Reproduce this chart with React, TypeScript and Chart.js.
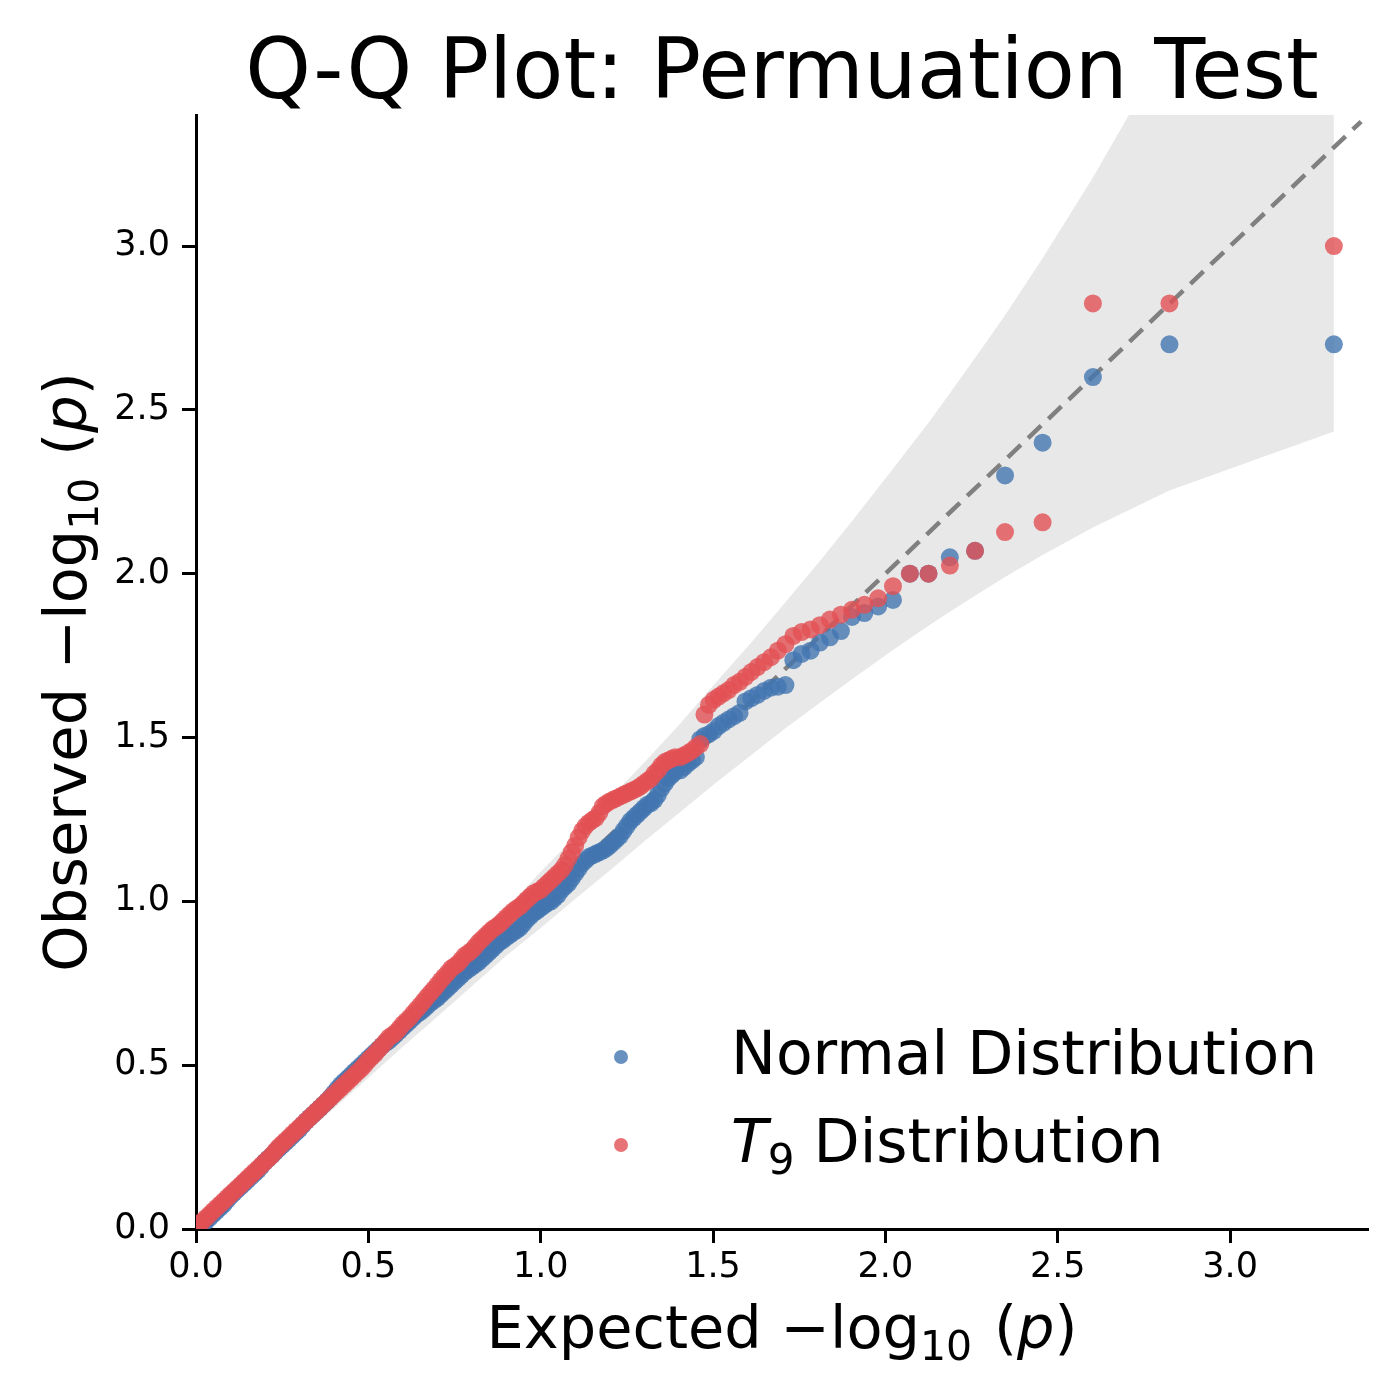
import React, { useEffect, useRef } from "react";
import { Chart, registerables } from "chart.js";

Chart.register(...registerables);

// Expected -log10(p) for the plotted order statistics (largest first)
const expected = [
  3.301, 2.824, 2.602, 2.456, 2.347, 2.26, 2.187, 2.125, 2.071, 2.022,
  1.979, 1.939, 1.903, 1.871, 1.839, 1.81, 1.783, 1.757, 1.733, 1.71,
  1.688, 1.668, 1.648, 1.629, 1.611, 1.594, 1.577, 1.561, 1.545, 1.53,
  1.516, 1.502, 1.488, 1.475, 1.463, 1.45, 1.439, 1.427, 1.416, 1.405,
  1.39, 1.38, 1.37, 1.36, 1.35, 1.34, 1.33, 1.32, 1.31, 1.3,
  1.29, 1.28, 1.27, 1.26, 1.25, 1.24, 1.23, 1.22, 1.21, 1.2,
  1.19, 1.18, 1.17, 1.16, 1.15, 1.14, 1.13, 1.12, 1.11, 1.1,
  1.09, 1.08, 1.07, 1.06, 1.05, 1.04, 1.03, 1.02, 1.01, 1.0,
  0.99, 0.98, 0.97, 0.96, 0.95, 0.94, 0.93, 0.92, 0.91, 0.9,
  0.89, 0.88, 0.87, 0.86, 0.85, 0.84, 0.83, 0.82, 0.81, 0.8,
  0.79, 0.78, 0.77, 0.76, 0.75, 0.74, 0.73, 0.72, 0.71, 0.7,
  0.69, 0.68, 0.67, 0.66, 0.65, 0.64, 0.63, 0.62, 0.61, 0.6,
  0.59, 0.58, 0.57, 0.56, 0.55, 0.54, 0.53, 0.52, 0.51, 0.5,
  0.49, 0.48, 0.47, 0.46, 0.45, 0.44, 0.43, 0.42, 0.41, 0.4,
  0.39, 0.38, 0.37, 0.36, 0.35, 0.34, 0.33, 0.32, 0.31, 0.3,
  0.29, 0.28, 0.27, 0.26, 0.25, 0.24, 0.23, 0.22, 0.21, 0.2,
  0.19, 0.18, 0.17, 0.16, 0.15, 0.14, 0.13, 0.12, 0.11, 0.1,
  0.09, 0.08, 0.07, 0.06, 0.05, 0.04, 0.03, 0.02, 0.01,
  0.005,
];

// Observed -log10(p), normal-distributed data
const normalObserved = [
  2.7, 2.7, 2.6, 2.4, 2.3, 2.07, 2.05, 2.0, 2.0, 1.92,
  1.9, 1.88, 1.868, 1.825, 1.806, 1.79, 1.765, 1.755, 1.736, 1.66,
  1.655, 1.652, 1.642, 1.63, 1.62, 1.61, 1.575, 1.565, 1.555, 1.545,
  1.535, 1.52, 1.51, 1.505, 1.495, 1.44, 1.43, 1.42, 1.41, 1.4,
  1.395, 1.385, 1.375, 1.36, 1.345, 1.325, 1.31, 1.3, 1.295, 1.285,
  1.275, 1.265, 1.255, 1.245, 1.23, 1.215, 1.2, 1.19, 1.18, 1.17,
  1.162, 1.155, 1.15, 1.145, 1.14, 1.135, 1.125, 1.115, 1.1, 1.085,
  1.07, 1.055, 1.045, 1.035, 1.02, 1.01, 1.0, 0.995, 0.988, 0.98,
  0.972, 0.965, 0.955, 0.945, 0.932, 0.92, 0.912, 0.905, 0.898, 0.89,
  0.882, 0.875, 0.865, 0.855, 0.845, 0.835, 0.825, 0.815, 0.808, 0.8,
  0.792, 0.785, 0.775, 0.765, 0.755, 0.745, 0.735, 0.725, 0.715, 0.705,
  0.698, 0.69, 0.68, 0.67, 0.662, 0.655, 0.645, 0.635, 0.625, 0.615,
  0.605, 0.595, 0.585, 0.575, 0.568, 0.56, 0.55, 0.54, 0.53, 0.52,
  0.51, 0.5, 0.49, 0.48, 0.47, 0.46, 0.45, 0.44, 0.428, 0.415,
  0.402, 0.39, 0.38, 0.37, 0.36, 0.35, 0.34, 0.33, 0.318, 0.305,
  0.295, 0.285, 0.275, 0.265, 0.255, 0.245, 0.235, 0.225, 0.215, 0.205,
  0.192, 0.18, 0.17, 0.16, 0.15, 0.14, 0.13, 0.12, 0.11, 0.1,
  0.088, 0.075, 0.065, 0.055, 0.045, 0.035, 0.025, 0.015, 0.008,
  0.0,
];

// Observed -log10(p), T9-distributed data
const t9Observed = [
  3.0, 2.825, 2.825, 2.157, 2.127, 2.07, 2.025, 2.0, 2.0, 1.962,
  1.925, 1.905, 1.89, 1.875, 1.86, 1.843, 1.83, 1.822, 1.81, 1.785,
  1.765, 1.745, 1.73, 1.715, 1.7, 1.685, 1.67, 1.66, 1.645, 1.635,
  1.625, 1.615, 1.6, 1.57, 1.48, 1.47, 1.46, 1.452, 1.446, 1.44,
  1.44, 1.435, 1.43, 1.425, 1.415, 1.4, 1.39, 1.375, 1.368, 1.36,
  1.352, 1.345, 1.34, 1.335, 1.33, 1.325, 1.32, 1.315, 1.31, 1.305,
  1.298, 1.29, 1.27, 1.255, 1.248, 1.24, 1.23, 1.215, 1.195, 1.17,
  1.15, 1.13, 1.11, 1.095, 1.085, 1.075, 1.065, 1.055, 1.045, 1.035,
  1.03, 1.025, 1.015, 1.005, 0.995, 0.985, 0.978, 0.97, 0.96, 0.95,
  0.94, 0.93, 0.922, 0.915, 0.905, 0.895, 0.885, 0.875, 0.862, 0.85,
  0.842, 0.835, 0.822, 0.81, 0.802, 0.795, 0.782, 0.77, 0.758, 0.745,
  0.732, 0.72, 0.708, 0.695, 0.682, 0.67, 0.658, 0.645, 0.635, 0.625,
  0.612, 0.6, 0.592, 0.585, 0.572, 0.56, 0.548, 0.535, 0.525, 0.515,
  0.502, 0.49, 0.48, 0.47, 0.46, 0.45, 0.44, 0.43, 0.42, 0.41,
  0.4, 0.39, 0.38, 0.37, 0.36, 0.35, 0.34, 0.33, 0.32, 0.31,
  0.3, 0.29, 0.28, 0.27, 0.26, 0.25, 0.238, 0.225, 0.215, 0.205,
  0.195, 0.185, 0.175, 0.165, 0.155, 0.145, 0.135, 0.125, 0.115, 0.105,
  0.095, 0.085, 0.075, 0.065, 0.055, 0.045, 0.035, 0.025, 0.015,
  0.005,
];

// 95% confidence band around the null line
const bandExpected = [
  0.0, 0.1, 0.2, 0.3, 0.4, 0.5, 0.6, 0.7, 0.8, 0.9, 1.0, 1.1, 1.204, 1.306,
  1.405, 1.502, 1.611, 1.71, 1.81, 1.903, 2.022, 2.125, 2.187, 2.26, 2.347,
  2.456, 2.602, 2.824, 3.301,
];
const bandUpper = [
  0.0, 0.114, 0.221, 0.328, 0.435, 0.542, 0.65, 0.756, 0.865, 0.977, 1.09,
  1.198, 1.318, 1.43, 1.543, 1.66, 1.79, 1.913, 2.039, 2.16, 2.32, 2.461,
  2.551, 2.658, 2.789, 2.963, 3.209, 3.616, 4.59,
];
const bandLower = [
  0.0, 0.087, 0.18, 0.274, 0.368, 0.462, 0.556, 0.648, 0.741, 0.834, 0.919,
  1.007, 1.097, 1.188, 1.273, 1.357, 1.447, 1.528, 1.606, 1.678, 1.767,
  1.841, 1.884, 1.933, 1.99, 2.057, 2.141, 2.254, 2.434,
];

// Reference line y = x
const diagonalEnds = [0, 3.38];

const AXIS_MIN = 0;
const AXIS_MAX = 3.4;

const BLUE = "rgba(66, 117, 176, 0.8)";
const RED = "rgba(226, 80, 84, 0.8)";
const FONT = "'DejaVu Sans', sans-serif";

type Seg = { t: string; size: number; italic?: boolean; dy?: number; gap?: number };

const fontOf = (s: Seg) => `${s.italic ? "italic " : ""}${s.size}px ${FONT}`;

function measureRich(ctx: CanvasRenderingContext2D, segs: Seg[]) {
  return segs.map((s) => {
    ctx.font = fontOf(s);
    return ctx.measureText(s.t).width + (s.gap || 0);
  });
}

function drawRich(
  ctx: CanvasRenderingContext2D,
  segs: Seg[],
  x: number,
  y: number,
  align: "left" | "center"
) {
  const widths = measureRich(ctx, segs);
  const total = widths.reduce((a, b) => a + b, 0);
  let cx = align === "center" ? x - total / 2 : x;
  ctx.textAlign = "left";
  ctx.textBaseline = "alphabetic";
  segs.forEach((s, i) => {
    ctx.font = fontOf(s);
    ctx.fillText(s.t, cx, y + (s.dy || 0));
    cx += widths[i];
  });
}

const labelSegs = (word: string, size: number): Seg[] => [
  { t: `${word} \u2212log`, size },
  { t: "10", size: Math.round(size * 0.7), dy: Math.round(size * 0.2), gap: size * 0.37 },
  { t: "(", size },
  { t: "p", size, italic: true },
  { t: ")", size },
];

const decorations = {
  id: "qqDecorations",
  afterDraw(chart: Chart) {
    const ctx = chart.ctx;
    const area = chart.chartArea;
    const cx = (area.left + area.right) / 2;
    const cy = (area.top + area.bottom) / 2;
    ctx.save();
    ctx.fillStyle = "#000";

    // Title
    drawRich(ctx, [{ t: "Q-Q Plot: Permuation Test", size: 83.5 }], cx, 98, "center");

    // X axis title
    drawRich(ctx, labelSegs("Expected", 59), cx, 1348, "center");

    // Y axis title (rotated)
    ctx.save();
    ctx.translate(86, cy);
    ctx.rotate(-Math.PI / 2);
    drawRich(ctx, labelSegs("Observed", 59), 0, 0, "center");
    ctx.restore();

    // Legend
    const rows: { color: string; y: number; segs: Seg[] }[] = [
      { color: BLUE, y: 1074, segs: [{ t: "Normal Distribution", size: 60 }] },
      {
        color: RED,
        y: 1162,
        segs: [
          { t: "T", size: 60, italic: true },
          { t: "9", size: 42, dy: 12, gap: 0 },
          { t: " Distribution", size: 60 },
        ],
      },
    ];
    rows.forEach((r) => {
      ctx.beginPath();
      ctx.fillStyle = r.color;
      ctx.arc(621, r.y - 17, 7, 0, Math.PI * 2);
      ctx.fill();
      ctx.fillStyle = "#000";
      drawRich(ctx, r.segs, 731, r.y, "left");
    });
    ctx.restore();
  },
};

export default function App() {
  const canvasRef = useRef<HTMLCanvasElement | null>(null);

  useEffect(() => {
    const canvas = canvasRef.current;
    if (!canvas) return;

    const normalPts = expected.map((x, i) => ({ x, y: normalObserved[i] }));
    const t9Pts = expected.map((x, i) => ({ x, y: t9Observed[i] }));
    const upperPts = bandExpected.map((x, i) => ({ x, y: bandUpper[i] }));
    const lowerPts = bandExpected.map((x, i) => ({ x, y: bandLower[i] }));
    const diagPts = diagonalEnds.map((v) => ({ x: v, y: v }));

    const tickFont = { family: FONT, size: 35 };

    const chart = new Chart(canvas, {
      type: "scatter",
      data: {
        datasets: [
          {
            label: "T9 Distribution",
            data: t9Pts,
            backgroundColor: RED,
            borderWidth: 0,
            pointRadius: 9,
            order: 0,
          },
          {
            label: "Normal Distribution",
            data: normalPts,
            backgroundColor: BLUE,
            borderWidth: 0,
            pointRadius: 9,
            order: 1,
          },
          {
            type: "line",
            label: "y = x",
            data: diagPts,
            borderColor: "rgb(128,128,128)",
            borderWidth: 4.5,
            borderDash: [18, 10],
            pointRadius: 0,
            fill: false,
            order: 2,
          } as any,
          {
            type: "line",
            label: "band upper",
            data: upperPts,
            borderWidth: 0,
            borderColor: "rgba(0,0,0,0)",
            backgroundColor: "#e8e8e8",
            pointRadius: 0,
            fill: "+1",
            tension: 0,
            order: 3,
          } as any,
          {
            type: "line",
            label: "band lower",
            data: lowerPts,
            borderWidth: 0,
            borderColor: "rgba(0,0,0,0)",
            pointRadius: 0,
            fill: false,
            tension: 0,
            order: 4,
          } as any,
        ],
      },
      options: {
        animation: false,
        responsive: false,
        events: [],
        layout: { padding: { left: 0, right: 32, top: 115, bottom: 0 } },
        plugins: {
          legend: { display: false },
          tooltip: { enabled: false },
          title: { display: false },
        },
        scales: {
          x: {
            type: "linear",
            min: AXIS_MIN,
            max: AXIS_MAX,
            afterFit: (s: any) => {
              s.height = 171;
            },
            border: { display: true, color: "#000", width: 3 },
            grid: {
              drawOnChartArea: false,
              drawTicks: true,
              tickLength: 14,
              tickWidth: 3,
              tickColor: "#000",
            },
            ticks: {
              stepSize: 0.5,
              includeBounds: false,
              autoSkip: false,
              maxRotation: 0,
              color: "#000",
              font: tickFont,
              padding: 4,
              callback: (v: any) => Number(v).toFixed(1),
            },
          },
          y: {
            type: "linear",
            min: AXIS_MIN,
            max: AXIS_MAX,
            afterFit: (s: any) => {
              s.width = 196;
            },
            border: { display: true, color: "#000", width: 3 },
            grid: {
              drawOnChartArea: false,
              drawTicks: true,
              tickLength: 14,
              tickWidth: 3,
              tickColor: "#000",
            },
            ticks: {
              stepSize: 0.5,
              includeBounds: false,
              autoSkip: false,
              color: "#000",
              font: tickFont,
              padding: 12,
              callback: (v: any) => Number(v).toFixed(1),
            },
          },
        },
      },
      plugins: [decorations],
    } as any);

    return () => chart.destroy();
  }, []);

  return (
    <div
      style={{
        position: "absolute",
        left: 0,
        top: 0,
        width: 1400,
        height: 1400,
        background: "#fff",
      }}
    >
      <canvas
        ref={canvasRef}
        width={1400}
        height={1400}
        style={{ width: 1400, height: 1400, display: "block" }}
      />
    </div>
  );
}
